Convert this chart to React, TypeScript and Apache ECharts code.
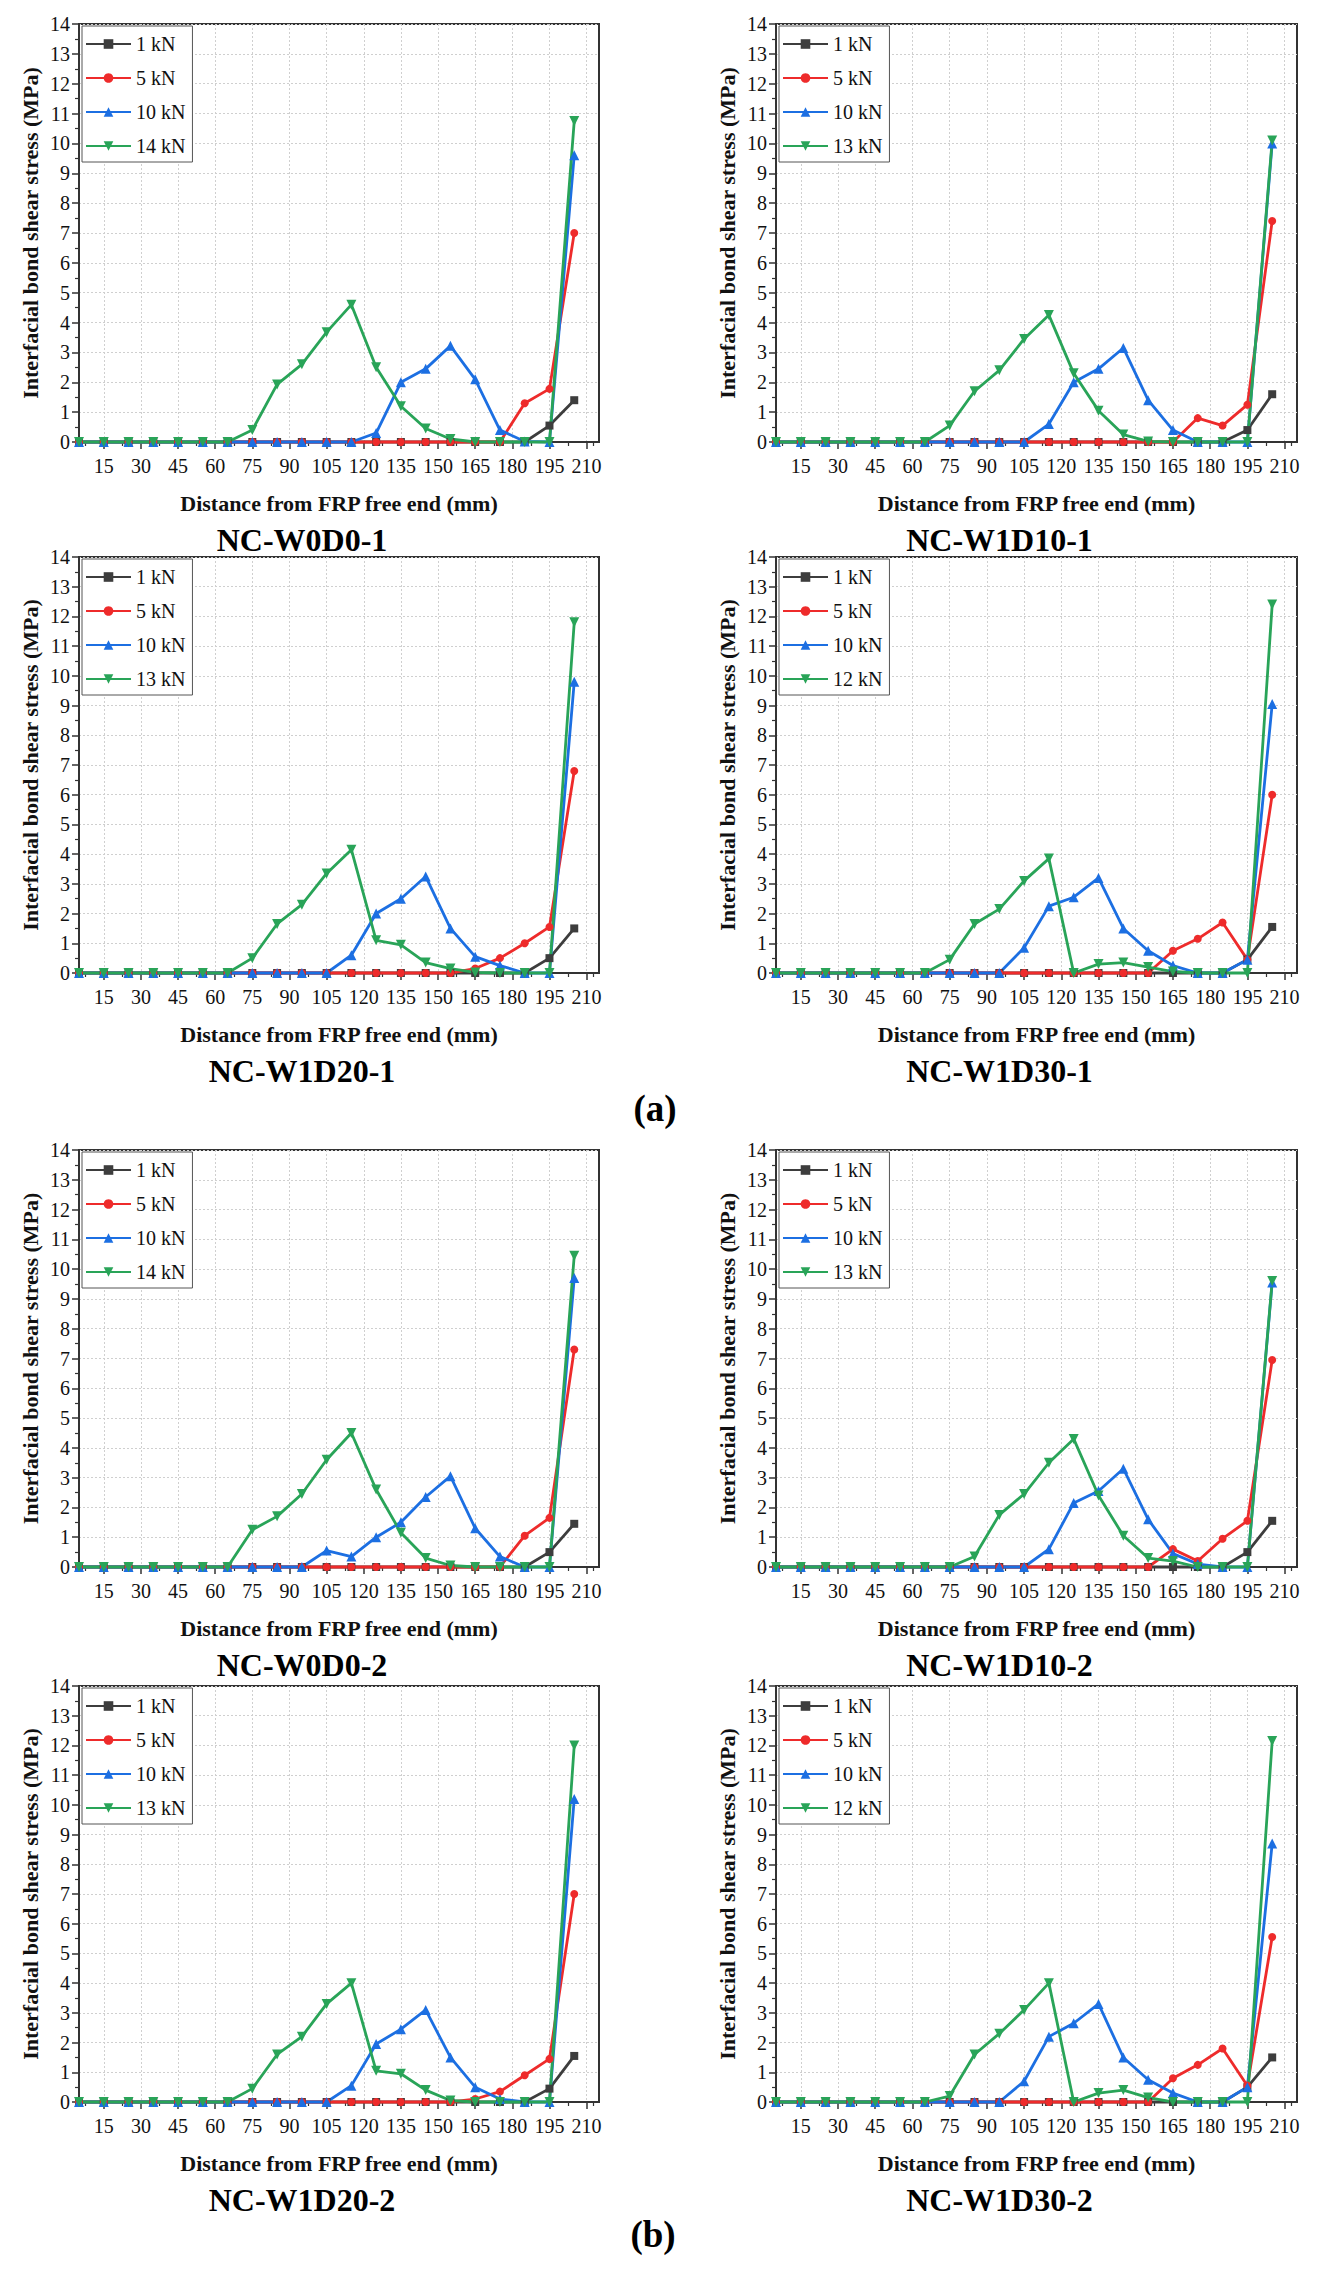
import React, { useEffect, useRef } from "react";
import * as echarts from "echarts";

// ---------- data ----------
const DIST = [5, 15, 25, 35, 45, 55, 65, 75, 85, 95, 105, 115, 125, 135, 145, 155, 165, 175, 185, 195, 205];
const X_TICKS = [15, 30, 45, 60, 75, 90, 105, 120, 135, 150, 165, 180, 195, 210];
const X_MINOR_TICKS = [7.5, 22.5, 37.5, 52.5, 67.5, 82.5, 97.5, 112.5, 127.5, 142.5, 157.5, 172.5, 187.5, 202.5, 212.5];

const PANEL_TITLES = ["NC-W0D0-1", "NC-W1D10-1", "NC-W1D20-1", "NC-W1D30-1", "NC-W0D0-2", "NC-W1D10-2", "NC-W1D20-2", "NC-W1D30-2"];
const PANEL_LOADS = [
  ["1 kN", "5 kN", "10 kN", "14 kN"],
  ["1 kN", "5 kN", "10 kN", "13 kN"],
  ["1 kN", "5 kN", "10 kN", "13 kN"],
  ["1 kN", "5 kN", "10 kN", "12 kN"],
  ["1 kN", "5 kN", "10 kN", "14 kN"],
  ["1 kN", "5 kN", "10 kN", "13 kN"],
  ["1 kN", "5 kN", "10 kN", "13 kN"],
  ["1 kN", "5 kN", "10 kN", "12 kN"],
];

// NC-W0D0-1
const W0D0_1_L1 = [0, 0, 0, 0, 0, 0, 0, 0, 0, 0, 0, 0, 0, 0, 0, 0, 0, 0, 0, 0.55, 1.4];
const W0D0_1_L5 = [0, 0, 0, 0, 0, 0, 0, 0, 0, 0, 0, 0, 0, 0, 0, 0, 0, 0, 1.3, 1.78, 7.0];
const W0D0_1_L10 = [0, 0, 0, 0, 0, 0, 0, 0, 0, 0, 0, 0, 0.3, 2.0, 2.45, 3.22, 2.1, 0.4, 0.02, 0, 9.6];
const W0D0_1_L14 = [0, 0, 0, 0, 0, 0, 0, 0.4, 1.93, 2.6, 3.68, 4.6, 2.5, 1.2, 0.45, 0.1, 0, 0, 0, 0, 10.75];
// NC-W1D10-1
const W1D10_1_L1 = [0, 0, 0, 0, 0, 0, 0, 0, 0, 0, 0, 0, 0, 0, 0, 0, 0, 0, 0, 0.4, 1.6];
const W1D10_1_L5 = [0, 0, 0, 0, 0, 0, 0, 0, 0, 0, 0, 0, 0, 0, 0, 0, 0, 0.8, 0.55, 1.25, 7.4];
const W1D10_1_L10 = [0, 0, 0, 0, 0, 0, 0, 0, 0, 0, 0, 0.6, 2.0, 2.45, 3.15, 1.4, 0.4, 0, 0, 0, 10.0];
const W1D10_1_L13 = [0, 0, 0, 0, 0, 0, 0, 0.55, 1.7, 2.4, 3.45, 4.25, 2.3, 1.05, 0.25, 0.02, 0, 0, 0, 0, 10.1];
// NC-W1D20-1
const W1D20_1_L1 = [0, 0, 0, 0, 0, 0, 0, 0, 0, 0, 0, 0, 0, 0, 0, 0, 0, 0, 0, 0.5, 1.5];
const W1D20_1_L5 = [0, 0, 0, 0, 0, 0, 0, 0, 0, 0, 0, 0, 0, 0, 0, 0, 0.15, 0.5, 1.0, 1.55, 6.8];
const W1D20_1_L10 = [0, 0, 0, 0, 0, 0, 0, 0, 0, 0, 0, 0.6, 2.0, 2.5, 3.25, 1.5, 0.55, 0.25, 0, 0, 9.8];
const W1D20_1_L13 = [0, 0, 0, 0, 0, 0, 0, 0.5, 1.65, 2.3, 3.35, 4.15, 1.1, 0.95, 0.35, 0.15, 0.02, 0, 0, 0, 11.8];
// NC-W1D30-1
const W1D30_1_L1 = [0, 0, 0, 0, 0, 0, 0, 0, 0, 0, 0, 0, 0, 0, 0, 0, 0, 0, 0, 0.45, 1.55];
const W1D30_1_L5 = [0, 0, 0, 0, 0, 0, 0, 0, 0, 0, 0, 0, 0, 0, 0, 0, 0.75, 1.15, 1.7, 0.45, 6.0];
const W1D30_1_L10 = [0, 0, 0, 0, 0, 0, 0, 0, 0, 0, 0.85, 2.25, 2.55, 3.2, 1.5, 0.75, 0.25, 0, 0, 0.45, 9.05];
const W1D30_1_L12 = [0, 0, 0, 0, 0, 0, 0, 0.45, 1.65, 2.15, 3.1, 3.85, 0, 0.3, 0.35, 0.2, 0.05, 0, 0, 0, 12.4];
// NC-W0D0-2
const W0D0_2_L1 = [0, 0, 0, 0, 0, 0, 0, 0, 0, 0, 0, 0, 0, 0, 0, 0, 0, 0, 0, 0.5, 1.45];
const W0D0_2_L5 = [0, 0, 0, 0, 0, 0, 0, 0, 0, 0, 0, 0, 0, 0, 0, 0, 0, 0, 1.05, 1.65, 7.3];
const W0D0_2_L10 = [0, 0, 0, 0, 0, 0, 0, 0, 0, 0, 0.55, 0.35, 1.0, 1.5, 2.35, 3.05, 1.3, 0.35, 0, 0, 9.7];
const W0D0_2_L14 = [0, 0, 0, 0, 0, 0, 0, 1.25, 1.7, 2.45, 3.6, 4.5, 2.6, 1.15, 0.3, 0.05, 0, 0, 0, 0, 10.45];
// NC-W1D10-2
const W1D10_2_L1 = [0, 0, 0, 0, 0, 0, 0, 0, 0, 0, 0, 0, 0, 0, 0, 0, 0, 0, 0, 0.5, 1.55];
const W1D10_2_L5 = [0, 0, 0, 0, 0, 0, 0, 0, 0, 0, 0, 0, 0, 0, 0, 0, 0.6, 0.2, 0.95, 1.55, 6.95];
const W1D10_2_L10 = [0, 0, 0, 0, 0, 0, 0, 0, 0, 0, 0, 0.6, 2.15, 2.55, 3.3, 1.6, 0.45, 0.1, 0, 0, 9.55];
const W1D10_2_L13 = [0, 0, 0, 0, 0, 0, 0, 0, 0.35, 1.75, 2.45, 3.5, 4.3, 2.4, 1.05, 0.3, 0.2, 0, 0, 0, 9.6];
// NC-W1D20-2
const W1D20_2_L1 = [0, 0, 0, 0, 0, 0, 0, 0, 0, 0, 0, 0, 0, 0, 0, 0, 0, 0, 0, 0.45, 1.55];
const W1D20_2_L5 = [0, 0, 0, 0, 0, 0, 0, 0, 0, 0, 0, 0, 0, 0, 0, 0, 0.1, 0.35, 0.9, 1.45, 7.0];
const W1D20_2_L10 = [0, 0, 0, 0, 0, 0, 0, 0, 0, 0, 0, 0.55, 1.95, 2.45, 3.1, 1.5, 0.5, 0.1, 0, 0, 10.2];
const W1D20_2_L13 = [0, 0, 0, 0, 0, 0, 0, 0.45, 1.6, 2.2, 3.3, 4.0, 1.05, 0.95, 0.4, 0.05, 0, 0, 0, 0, 12.0];
// NC-W1D30-2
const W1D30_2_L1 = [0, 0, 0, 0, 0, 0, 0, 0, 0, 0, 0, 0, 0, 0, 0, 0, 0, 0, 0, 0.5, 1.5];
const W1D30_2_L5 = [0, 0, 0, 0, 0, 0, 0, 0, 0, 0, 0, 0, 0, 0, 0, 0, 0.8, 1.25, 1.8, 0.55, 5.55];
const W1D30_2_L10 = [0, 0, 0, 0, 0, 0, 0, 0, 0, 0, 0.7, 2.2, 2.65, 3.3, 1.5, 0.75, 0.3, 0, 0, 0.5, 8.7];
const W1D30_2_L12 = [0, 0, 0, 0, 0, 0, 0, 0.2, 1.6, 2.3, 3.1, 4.0, 0, 0.3, 0.4, 0.15, 0, 0, 0, 0, 12.15];

const PANEL_DATA = [
  [W0D0_1_L1, W0D0_1_L5, W0D0_1_L10, W0D0_1_L14],
  [W1D10_1_L1, W1D10_1_L5, W1D10_1_L10, W1D10_1_L13],
  [W1D20_1_L1, W1D20_1_L5, W1D20_1_L10, W1D20_1_L13],
  [W1D30_1_L1, W1D30_1_L5, W1D30_1_L10, W1D30_1_L12],
  [W0D0_2_L1, W0D0_2_L5, W0D0_2_L10, W0D0_2_L14],
  [W1D10_2_L1, W1D10_2_L5, W1D10_2_L10, W1D10_2_L13],
  [W1D20_2_L1, W1D20_2_L5, W1D20_2_L10, W1D20_2_L13],
  [W1D30_2_L1, W1D30_2_L5, W1D30_2_L10, W1D30_2_L12],
];

const X_NAME = "Distance from FRP free end (mm)";
const Y_NAME = "Interfacial bond shear stress (MPa)";
const GROUP_LABELS = ["(a)", "(b)"];

// ---------- style / layout ----------
const FONT = "'Liberation Serif', 'Times New Roman', 'DejaVu Serif', serif";
const W = 1320;
const H = 2272;
const COL_LEFT = [79, 776];
const COL_WIDTH = [520, 521];
const ROW_TOP = [24, 557, 1150, 1686];
const ROW_HEIGHT = [418, 416, 417, 416];
const GROUP_LABEL_POS = [
  [655, 1108],
  [653, 2234],
];
const COLORS = ["#3d3d3d", "#ee2b2b", "#1c6fe2", "#29a458"];
const SYMBOLS = ["rect", "circle", "triangle", "path://M0,0L10,0L5,9Z"];
const SYMBOL_SIZES = [8, 8, 10, 10];
const AXIS_COLOR = "#333";
const GRID_LINE = "#cfcfcf";

function buildOption() {
  const grid: any[] = [];
  const xAxis: any[] = [];
  const yAxis: any[] = [];
  const series: any[] = [];
  const legend: any[] = [];
  const graphic: any[] = [];

  PANEL_TITLES.forEach((title, k) => {
    const col = k % 2;
    const row = Math.floor(k / 2);
    const left = COL_LEFT[col];
    const top = ROW_TOP[row];
    const width = COL_WIDTH[col];
    const height = ROW_HEIGHT[row];

    grid.push({
      left,
      top,
      width,
      height,
      show: true,
      borderColor: AXIS_COLOR,
      borderWidth: 2,
      backgroundColor: "transparent",
      containLabel: false,
    });

    xAxis.push({
      type: "value",
      gridIndex: k,
      min: 5,
      max: 215,
      position: "bottom",
      name: X_NAME,
      nameLocation: "middle",
      nameGap: 50,
      nameTextStyle: { fontFamily: FONT, fontSize: 22, fontWeight: "bold", color: "#111" },
      axisLine: { show: true, onZero: false, lineStyle: { color: AXIS_COLOR, width: 2 } },
      axisTick: { show: true, inside: false, length: 7, customValues: X_TICKS, lineStyle: { color: AXIS_COLOR, width: 1.5 } },
      axisLabel: { show: true, customValues: X_TICKS, margin: 14, fontFamily: FONT, fontSize: 20, color: "#111" },
      splitLine: { show: true, lineStyle: { color: GRID_LINE, width: 1, type: [2, 2] } },
    });
    xAxis.push({
      type: "value",
      gridIndex: k,
      min: 5,
      max: 215,
      position: "bottom",
      axisLine: { show: false, onZero: false },
      axisTick: { show: true, inside: false, length: 4, customValues: X_MINOR_TICKS, lineStyle: { color: AXIS_COLOR, width: 1.2 } },
      axisLabel: { show: false },
      splitLine: { show: false },
    });

    yAxis.push({
      type: "value",
      gridIndex: k,
      min: 0,
      max: 14,
      interval: 1,
      name: Y_NAME,
      nameLocation: "middle",
      nameGap: 38,
      nameRotate: 90,
      nameTextStyle: { fontFamily: FONT, fontSize: 22, fontWeight: "bold", color: "#111" },
      axisLine: { show: true, lineStyle: { color: AXIS_COLOR, width: 2 } },
      axisTick: { show: true, inside: false, length: 7, lineStyle: { color: AXIS_COLOR, width: 1.5 } },
      minorTick: { show: true, splitNumber: 2, length: 4, lineStyle: { color: AXIS_COLOR, width: 1.2 } },
      axisLabel: { show: true, margin: 9, fontFamily: FONT, fontSize: 20, color: "#111" },
      splitLine: { show: true, lineStyle: { color: GRID_LINE, width: 1, type: [2, 2] } },
    });

    PANEL_LOADS[k].forEach((name, s) => {
      const values = PANEL_DATA[k][s];
      series.push({
        type: "line",
        name,
        xAxisIndex: 2 * k,
        yAxisIndex: k,
        data: DIST.map((d, i) => [d, values[i]]),
        symbol: SYMBOLS[s],
        symbolSize: SYMBOL_SIZES[s],
        showAllSymbol: true,
        color: COLORS[s],
        lineStyle: { color: COLORS[s], width: 2.8 },
        itemStyle: { color: COLORS[s] },
        emphasis: { disabled: true },
        clip: false,
      });
    });

    legend.push({
      orient: "vertical",
      left: left + 3,
      top: top + 2,
      data: PANEL_LOADS[k],
      selectedMode: false,
      itemWidth: 45,
      itemHeight: 12,
      itemGap: 14,
      padding: [8, 7, 6, 3],
      borderColor: "#555",
      borderWidth: 1,
      borderRadius: 0,
      backgroundColor: "#fff",
      textStyle: { fontFamily: FONT, fontSize: 20, color: "#111" },
    });

    graphic.push({
      type: "text",
      x: left + width / 2 - 37,
      y: top + height + 98,
      style: {
        text: title,
        fill: "#000",
        font: `bold 32px ${FONT}`,
        align: "center",
        verticalAlign: "middle",
      },
    });
  });

  GROUP_LABELS.forEach((label, g) => {
    graphic.push({
      type: "text",
      x: GROUP_LABEL_POS[g][0],
      y: GROUP_LABEL_POS[g][1],
      style: { text: label, fill: "#000", font: `bold 37px ${FONT}`, align: "center", verticalAlign: "middle" },
    });
  });

  return {
    animation: false,
    backgroundColor: "#fff",
    textStyle: { fontFamily: FONT },
    grid,
    xAxis,
    yAxis,
    series,
    legend,
    graphic,
    tooltip: { show: false },
  };
}

export default function App() {
  const ref = useRef<HTMLDivElement>(null);
  useEffect(() => {
    document.body.style.margin = "0";
    if (!ref.current) return;
    const chart = echarts.init(ref.current, null, { renderer: "svg" });
    chart.setOption(buildOption());
    return () => {
      chart.dispose();
    };
  }, []);
  return <div ref={ref} style={{ width: W, height: H, background: "#fff" }} />;
}
